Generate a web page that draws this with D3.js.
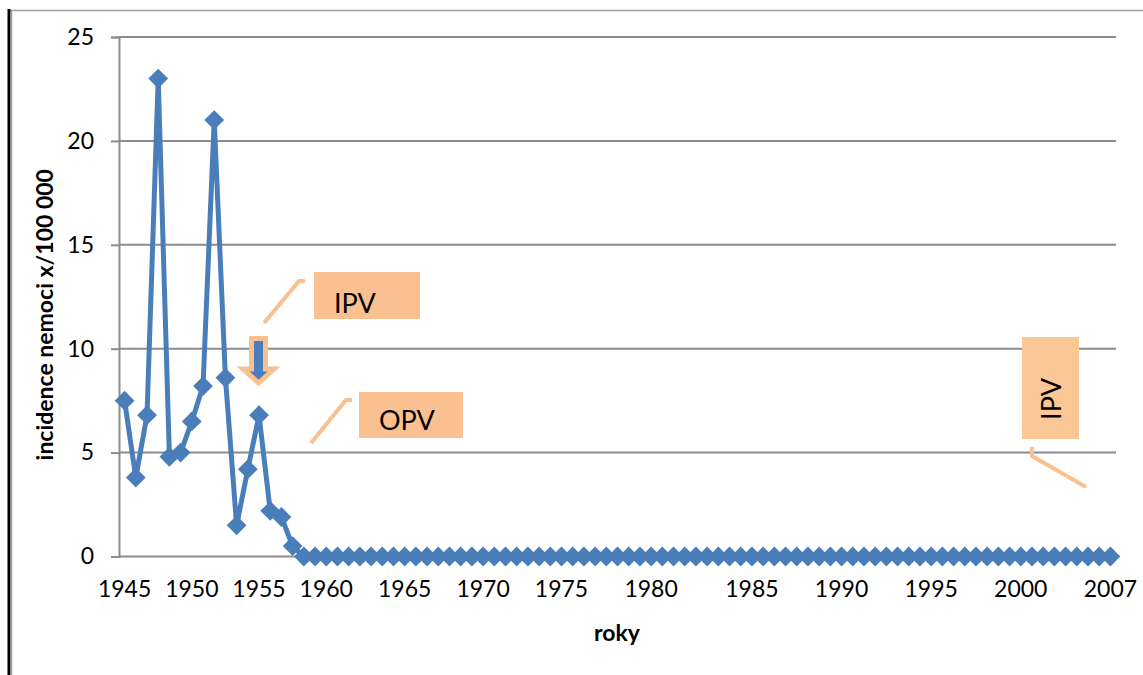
<!DOCTYPE html>
<html>
<head>
<meta charset="utf-8">
<script src="https://cdn.jsdelivr.net/npm/d3@7"></script>
<style>
  html, body { margin: 0; padding: 0; background: #fff; }
  svg { display: block; }
  text { font-family: Lato, "Open Sans", sans-serif; fill: #000; }
</style>
</head>
<body>
<svg id="chart" width="1143" height="675"></svg>
<script>
// ---- data ----
const values = [
  7.5, 3.8, 6.8, 23.0, 4.8, 5.0, 6.5, 8.2, 21.0, 8.6, 1.5, 4.2, 6.8, 2.2, 1.9, 0.5,
  0, 0, 0, 0, 0, 0, 0, 0, 0, 0, 0, 0, 0, 0, 0, 0, 0, 0, 0, 0, 0, 0, 0, 0, 0, 0, 0, 0,
  0, 0, 0, 0, 0, 0, 0, 0, 0, 0, 0, 0, 0, 0, 0, 0, 0, 0, 0, 0, 0, 0, 0, 0, 0, 0, 0, 0,
  0, 0, 0, 0, 0, 0, 0, 0, 0, 0, 0, 0, 0, 0, 0, 0, 0
];
const tickIndex  = [0, 6, 12, 18, 25, 32, 39, 47, 56, 64, 72, 80, 88];
const tickLabels = ["1945","1950","1955","1960","1965","1970","1975","1980","1985","1990","1995","2000","2007"];
const yTicks = [0, 5, 10, 15, 20, 25];
const yTitle = "incidence nemoci x/100 000";
const xTitle = "roky";
const annotations = ["IPV", "OPV", "IPV"];

// ---- layout ----
const svg = d3.select("#chart");
const pLeft = 119, pRight = 1116, pTop = 37, pBottom = 556.5;
const categories = d3.range(values.length);
const x = d3.scaleBand().domain(categories).range([pLeft, pRight]);
const y = d3.scaleLinear().domain([0, 25]).range([pBottom, pTop]);
const cx = i => x(i) + x.bandwidth() / 2;

// frame
svg.append("line").attr("x1", 10).attr("x2", 1143).attr("y1", 10.5).attr("y2", 10.5)
  .attr("stroke", "#a0a0a0").attr("stroke-width", 1.5);
svg.append("line").attr("x1", 9).attr("x2", 9).attr("y1", 9).attr("y2", 675)
  .attr("stroke", "#000").attr("stroke-width", 3);
svg.append("line").attr("x1", 11.5).attr("x2", 11.5).attr("y1", 11).attr("y2", 675)
  .attr("stroke", "#a0a0a0").attr("stroke-width", 1.5);

// y axis with gridlines
const yAxis = d3.axisLeft(y).tickValues(yTicks).tickSize(8).tickPadding(17);
const gy = svg.append("g").attr("transform", `translate(${pLeft},0)`).call(yAxis);
gy.select(".domain").attr("stroke", "#8c8c8c").attr("stroke-width", 2);
gy.selectAll(".tick line").attr("stroke", "#8c8c8c").attr("stroke-width", 2);
gy.selectAll(".tick text").attr("font-size", 23).attr("font-family", "Lato");
svg.append("g").selectAll("line").data(yTicks).join("line")
  .attr("x1", pLeft).attr("x2", pRight)
  .attr("y1", d => y(d)).attr("y2", d => y(d))
  .attr("stroke", "#8c8c8c").attr("stroke-width", 2);

// x labels
const xAxis = d3.axisBottom(x).tickValues(tickIndex)
  .tickFormat((d, i) => tickLabels[i]).tickSize(0).tickPadding(24);
const gx = svg.append("g").attr("transform", `translate(0,${pBottom})`).call(xAxis);
gx.select(".domain").remove();
gx.selectAll(".tick text").attr("font-size", 23).attr("font-family", "Lato");

// axis titles
svg.append("text").attr("transform", `translate(53,${(pTop + pBottom) / 2 + 18}) rotate(-90)`)
  .attr("text-anchor", "middle").attr("font-size", 23).attr("font-weight", "bold").text(yTitle);
svg.append("text").attr("x", 617).attr("y", 641)
  .attr("text-anchor", "middle").attr("font-size", 23).attr("font-weight", "bold").text(xTitle);

// series
const blue = "#4a7ebb";
svg.append("path").datum(values)
  .attr("d", d3.line().x((d, i) => cx(i)).y(d => y(d)))
  .attr("fill", "none").attr("stroke", blue).attr("stroke-width", 5)
  .attr("stroke-linejoin", "round");
svg.append("g").selectAll("rect").data(values).join("rect")
  .attr("x", -7).attr("y", -7).attr("width", 14).attr("height", 14)
  .attr("transform", (d, i) => `translate(${cx(i)},${y(d)}) rotate(45)`)
  .attr("fill", blue);

// annotations
const orange = "#fac090";
const ann = svg.append("g");
// IPV box
ann.append("rect").attr("x", 314).attr("y", 272).attr("width", 106).attr("height", 47).attr("fill", orange);
ann.append("text").attr("x", 334).attr("y", 313).attr("font-size", 27).text(annotations[0]);
ann.append("polyline").attr("points", "264,323 299,281 305,281")
  .attr("fill", "none").attr("stroke", orange).attr("stroke-width", 4);
// OPV box
ann.append("rect").attr("x", 359).attr("y", 392).attr("width", 104).attr("height", 46).attr("fill", orange);
ann.append("text").attr("x", 379).attr("y", 430).attr("font-size", 27).text(annotations[1]);
ann.append("polyline").attr("points", "311,443 346,400 352,400")
  .attr("fill", "none").attr("stroke", orange).attr("stroke-width", 4);
// arrow
ann.append("path")
  .attr("d", "M251.5,338.5 L265.5,338.5 L265.5,369 L274,369 L258.5,383 L243,369 L251.5,369 Z")
  .attr("fill", blue).attr("stroke", orange).attr("stroke-width", 5).attr("stroke-linejoin", "miter");
// vertical IPV box
ann.append("rect").attr("x", 1022).attr("y", 337).attr("width", 57).attr("height", 102).attr("fill", "#fbc794");
ann.append("text").attr("transform", "translate(1061,399) rotate(-90)")
  .attr("text-anchor", "middle").attr("font-size", 27).text(annotations[2]);
ann.append("polyline").attr("points", "1032,447 1032,456 1086,487")
  .attr("fill", "none").attr("stroke", orange).attr("stroke-width", 4);
</script>
</body>
</html>
